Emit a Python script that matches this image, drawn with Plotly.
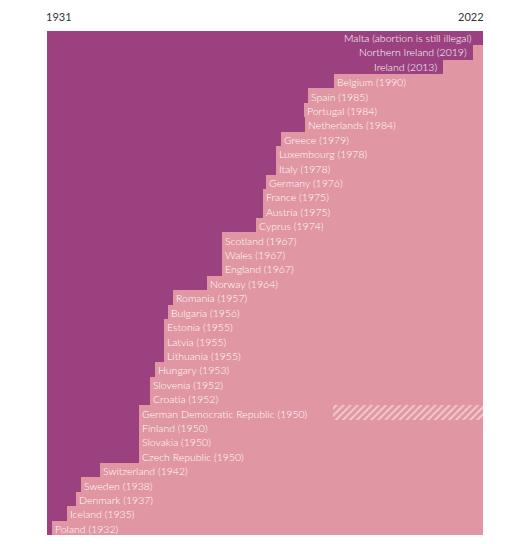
import plotly.graph_objects as go

# rows from top to bottom
countries = ['Malta', 'Northern Ireland', 'Ireland', 'Belgium', 'Spain', 'Portugal',
             'Netherlands', 'Greece', 'Luxembourg', 'Italy', 'Germany', 'France',
             'Austria', 'Cyprus', 'Scotland', 'Wales', 'England', 'Norway', 'Romania',
             'Bulgaria', 'Estonia', 'Latvia', 'Lithuania', 'Hungary', 'Slovenia',
             'Croatia', 'German Democratic Republic', 'Finland', 'Slovakia',
             'Czech Republic', 'Switzerland', 'Sweden', 'Denmark', 'Iceland', 'Poland']
labels = ['Malta (abortion is still illegal)', 'Northern Ireland (2019)', 'Ireland (2013)',
          'Belgium (1990)', 'Spain (1985)', 'Portugal (1984)', 'Netherlands (1984)',
          'Greece (1979)', 'Luxembourg (1978)', 'Italy (1978)', 'Germany (1976)',
          'France (1975)', 'Austria (1975)', 'Cyprus (1974)', 'Scotland (1967)',
          'Wales (1967)', 'England (1967)', 'Norway (1964)', 'Romania (1957)',
          'Bulgaria (1956)', 'Estonia (1955)', 'Latvia (1955)', 'Lithuania (1955)',
          'Hungary (1953)', 'Slovenia (1952)', 'Croatia (1952)',
          'German Democratic Republic (1950)', 'Finland (1950)', 'Slovakia (1950)',
          'Czech Republic (1950)', 'Switzerland (1942)', 'Sweden (1938)',
          'Denmark (1937)', 'Iceland (1935)', 'Poland (1932)']
# point where abortion became legal (Malta: never)
legal_from = [2022, 2019.85, 2013.7, 1990.8, 1985.5, 1984.6, 1984.85, 1979.8, 1978.7,
              1978.7, 1976.7, 1976.1, 1976.1, 1974.6, 1967.5, 1967.5, 1967.5, 1964.4,
              1957.4, 1956.3, 1955.4, 1955.4, 1955.4, 1953.5, 1952.4, 1952.4, 1950.2,
              1950.2, 1950.2, 1950.2, 1942.1, 1938.1, 1937.05, 1935.1, 1932.1]
start_year = 1931
end_year = 2022
gdr_end = 1990.7

purple = '#9b4180'
pink = '#e096a3'

fig = go.Figure()
fig.add_trace(go.Bar(
    y=countries, x=[s - start_year for s in legal_from], base=start_year,
    orientation='h', marker_color=purple, marker_line_width=0, hoverinfo='skip'))
fig.add_trace(go.Bar(
    y=countries, x=[end_year - s for s in legal_from], base=legal_from,
    orientation='h', marker_color=pink, marker_line_width=0, hoverinfo='skip'))
# GDR ceased to exist
fig.add_trace(go.Bar(
    y=['German Democratic Republic'], x=[end_year - gdr_end], base=gdr_end,
    orientation='h', marker=dict(color=pink, line_width=0,
                                 pattern=dict(shape='/', fgcolor='white', bgcolor=pink,
                                              size=5, solidity=0.4)),
    hoverinfo='skip'))

label_font = dict(color='white', size=10.5, weight=300)
annotations = []
for c, lab, s in zip(countries, labels, legal_from):
    if s > 2000:
        annotations.append(dict(x=s, y=c, xref='x', yref='y', text=lab, showarrow=False,
                                xanchor='right', xshift=-4 if s < end_year else -9,
                                font=label_font))
    else:
        annotations.append(dict(x=s, y=c, xref='x', yref='y', text=lab, showarrow=False,
                                xanchor='left', xshift=1, yshift=-1, font=label_font))

year_font = dict(color='#333', size=11)
annotations.append(dict(x=start_year, y=1, xref='x', yref='paper', yanchor='bottom',
                        yshift=5, xanchor='left', xshift=-3, text=str(start_year),
                        showarrow=False, font=year_font))
annotations.append(dict(x=end_year, y=1, xref='x', yref='paper', yanchor='bottom',
                        yshift=5, xanchor='right', xshift=3, text=str(end_year),
                        showarrow=False, font=year_font))

fig.update_layout(
    width=514, height=536,
    margin=dict(l=39, r=39, t=22, b=9),
    barmode='overlay', bargap=0,
    showlegend=False,
    plot_bgcolor='white', paper_bgcolor='white',
    font=dict(family='Lato, Open Sans, sans-serif'),
    xaxis=dict(range=[start_year, end_year], visible=False, fixedrange=True),
    yaxis=dict(autorange='reversed', visible=False, fixedrange=True),
    annotations=annotations,
)

fig.write_html('out.html')
